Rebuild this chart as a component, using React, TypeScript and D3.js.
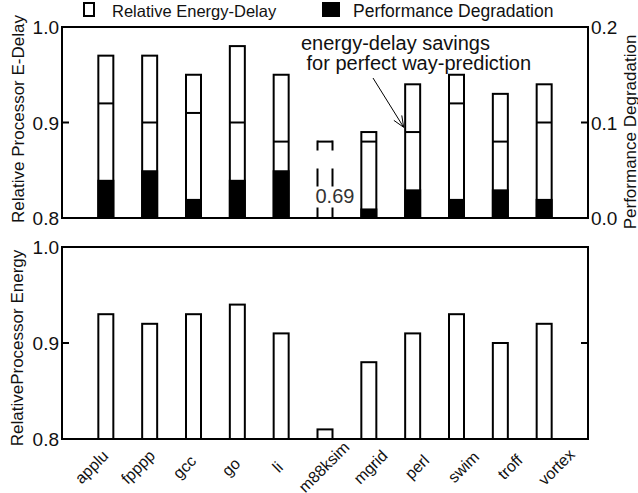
import * as d3 from 'd3';
import React, { useEffect, useRef } from 'react';

const benchmarks = ['applu', 'fpppp', 'gcc', 'go', 'li', 'm88ksim', 'mgrid', 'perl', 'swim', 'troff', 'vortex'];
// top panel: relative energy-delay (bar top), perfect way-prediction (inner line), perf degradation (black, right axis)
const energyDelay = [0.97, 0.97, 0.95, 0.98, 0.95, 0.88, 0.89, 0.94, 0.95, 0.93, 0.94];
const perfectWayPred = [0.92, 0.90, 0.91, 0.90, 0.88, null, 0.88, 0.89, 0.92, 0.88, 0.90];
const perfDegradation = [0.04, 0.05, 0.02, 0.04, 0.05, 0, 0.01, 0.03, 0.02, 0.03, 0.02];
// bars whose real value is off the scale: drawn dashed with the value printed
const offScaleNames = ['m88ksim'];
const offScaleLabels = ['0.69'];
// bottom panel
const relEnergy = [0.93, 0.92, 0.93, 0.94, 0.91, 0.81, 0.88, 0.91, 0.93, 0.90, 0.92];

const leftTicks = [0.8, 0.9, 1.0];
const rightTicks = [0.0, 0.1, 0.2];
const legendLabels = ['Relative Energy-Delay', 'Performance Degradation'];
const noteLines = ['energy-delay savings', ' for perfect way-prediction'];

const FONT = '"Liberation Sans", Arial, Helvetica, sans-serif';
const INK = '#111';

const App: React.FC = () => {
  const svgRef = useRef<SVGSVGElement>(null);
  const width = 638;
  const height = 493;

  useEffect(() => {
    document.body.style.margin = '0';
    if (!svgRef.current) return;
    const svg = d3.select(svgRef.current);
    svg.selectAll('*').remove();

    const left = 62, right = 588;
    const top1 = 27, bottom1 = 218;
    const top2 = 247, bottom2 = 439;
    const barW = 15;

    const x = d3.scalePoint<string>().domain(benchmarks).range([left, right]).padding(1);
    const labelX = d3.scalePoint<string>().domain(benchmarks).range([91.5, 556.5]);
    const y1 = d3.scaleLinear().domain([0.8, 1.0]).range([bottom1, top1]);
    const yR = d3.scaleLinear().domain([0, 0.2]).range([bottom1, top1]);
    const y2 = d3.scaleLinear().domain([0.8, 1.0]).range([bottom2, top2]);

    const g = svg.append('g').attr('font-family', FONT).attr('fill', INK);

    // ---- top panel bars
    benchmarks.forEach((b, i) => {
      const cx = x(b) as number;
      const off = offScaleNames.indexOf(b);
      if (off >= 0) {
        const yt = y1(energyDelay[i]);
        g.append('line')
          .attr('x1', cx - barW / 2).attr('x2', cx + barW / 2)
          .attr('y1', yt).attr('y2', yt)
          .attr('stroke', '#000').attr('stroke-width', 2);
        [cx - barW / 2, cx + barW / 2].forEach(lx => {
          g.append('line')
            .attr('x1', lx).attr('x2', lx)
            .attr('y1', yt - 1).attr('y2', bottom1)
            .attr('stroke', '#000').attr('stroke-width', 2)
            .attr('stroke-dasharray', '10 18 18 21');
        });
        g.append('text')
          .attr('x', cx - 9.5)
          .attr('y', y1(0.8) - 15)
          .attr('font-size', 20)
          .attr('fill', '#333')
          .text(offScaleLabels[off]);
        return;
      }
      g.append('rect')
        .attr('x', cx - barW / 2)
        .attr('y', y1(energyDelay[i]))
        .attr('width', barW)
        .attr('height', bottom1 - y1(energyDelay[i]))
        .attr('fill', '#fff')
        .attr('stroke', '#000')
        .attr('stroke-width', 2);
      const pw = perfectWayPred[i];
      if (pw != null) {
        g.append('line')
          .attr('x1', cx - barW / 2).attr('x2', cx + barW / 2)
          .attr('y1', y1(pw)).attr('y2', y1(pw))
          .attr('stroke', '#000').attr('stroke-width', 2);
      }
      if (perfDegradation[i] > 0) {
        g.append('rect')
          .attr('x', cx - barW / 2 - 1)
          .attr('y', yR(perfDegradation[i]))
          .attr('width', barW + 2)
          .attr('height', bottom1 - yR(perfDegradation[i]))
          .attr('fill', '#000');
      }
    });

    // ---- bottom panel bars
    g.selectAll('rect.energy')
      .data(benchmarks)
      .join('rect')
      .attr('class', 'energy')
      .attr('x', d => (x(d) as number) - barW / 2)
      .attr('y', (d, i) => y2(relEnergy[i]))
      .attr('width', barW)
      .attr('height', (d, i) => bottom2 - y2(relEnergy[i]))
      .attr('fill', '#fff')
      .attr('stroke', '#000')
      .attr('stroke-width', 2);

    // ---- frames
    [[top1, bottom1], [top2, bottom2]].forEach(([t, b]) => {
      g.append('rect')
        .attr('x', left).attr('y', t)
        .attr('width', right - left).attr('height', b - t)
        .attr('fill', 'none').attr('stroke', '#000').attr('stroke-width', 2);
    });

    // ---- ticks + tick labels
    const tickLen = 7;
    const leftAxis = (scale: d3.ScaleLinear<number, number>, withRightTicks: boolean) => {
      leftTicks.forEach(v => {
        const yy = scale(v);
        g.append('line').attr('x1', left).attr('x2', left + tickLen)
          .attr('y1', yy).attr('y2', yy).attr('stroke', '#000').attr('stroke-width', 2);
        if (withRightTicks) {
          g.append('line').attr('x1', right - tickLen).attr('x2', right)
            .attr('y1', yy).attr('y2', yy).attr('stroke', '#000').attr('stroke-width', 2);
        }
        g.append('text')
          .attr('x', left - 3).attr('y', yy + 7)
          .attr('text-anchor', 'end').attr('font-size', 19)
          .text(d3.format('.1f')(v));
      });
    };
    leftAxis(y1, false);
    leftAxis(y2, true);

    rightTicks.forEach(v => {
      const yy = yR(v);
      g.append('line').attr('x1', right - tickLen).attr('x2', right)
        .attr('y1', yy).attr('y2', yy).attr('stroke', '#000').attr('stroke-width', 2);
      g.append('text')
        .attr('x', right + 3).attr('y', yy + 7)
        .attr('text-anchor', 'start').attr('font-size', 19)
        .text(d3.format('.1f')(v));
    });

    // ---- category labels
    g.selectAll('text.cat')
      .data(benchmarks)
      .join('text')
      .attr('class', 'cat')
      .attr('transform', d => `translate(${labelX(d)}, 467) rotate(-45)`)
      .attr('text-anchor', 'middle')
      .attr('dominant-baseline', 'central')
      .attr('font-size', 16)
      .text(d => d);

    // ---- axis titles
    g.append('text')
      .attr('transform', `translate(18, 119) rotate(-90)`)
      .attr('text-anchor', 'middle').attr('dominant-baseline', 'central')
      .attr('font-size', 17)
      .text('Relative Processor E-Delay');
    g.append('text')
      .attr('transform', `translate(17, 348) rotate(-90)`)
      .attr('text-anchor', 'middle').attr('dominant-baseline', 'central')
      .attr('font-size', 17)
      .text('RelativeProcessor Energy');
    g.append('text')
      .attr('transform', `translate(630, 132) rotate(-90)`)
      .attr('text-anchor', 'middle').attr('dominant-baseline', 'central')
      .attr('font-size', 17)
      .text('Performance Degradation');

    // ---- legend
    g.append('rect').attr('x', 84).attr('y', 3).attr('width', 10).attr('height', 13)
      .attr('fill', '#fff').attr('stroke', '#000').attr('stroke-width', 2);
    g.append('text').attr('x', 112).attr('y', 17).attr('font-size', 16.5).text(legendLabels[0]);
    g.append('rect').attr('x', 322).attr('y', 2).attr('width', 18).attr('height', 15).attr('fill', '#000');
    g.append('text').attr('x', 353).attr('y', 17).attr('font-size', 17.5).text(legendLabels[1]);

    // ---- annotation with arrow to perl's inner line
    noteLines.forEach((line, i) => {
      g.append('text')
        .attr('x', 301).attr('y', 50 + i * 20)
        .attr('font-size', 20)
        .attr('xml:space', 'preserve')
        .style('white-space', 'pre')
        .text(line);
    });
    const ax0 = 373, ay0 = 78;
    const ax1 = (x('perl') as number) - 9, ay1 = y1(0.895);
    g.append('line')
      .attr('x1', ax0).attr('y1', ay0).attr('x2', ax1).attr('y2', ay1)
      .attr('stroke', '#000').attr('stroke-width', 1);
    const ang = Math.atan2(ay1 - ay0, ax1 - ax0);
    [-0.4, 0.4].forEach(da => {
      g.append('line')
        .attr('x1', ax1).attr('y1', ay1)
        .attr('x2', ax1 - 12 * Math.cos(ang + da))
        .attr('y2', ay1 - 12 * Math.sin(ang + da))
        .attr('stroke', '#000').attr('stroke-width', 1);
    });
  }, []);

  return (
    <svg
      ref={svgRef}
      width={width}
      height={height}
      style={{ display: 'block', background: '#fff' }}
    />
  );
};

export default App;
